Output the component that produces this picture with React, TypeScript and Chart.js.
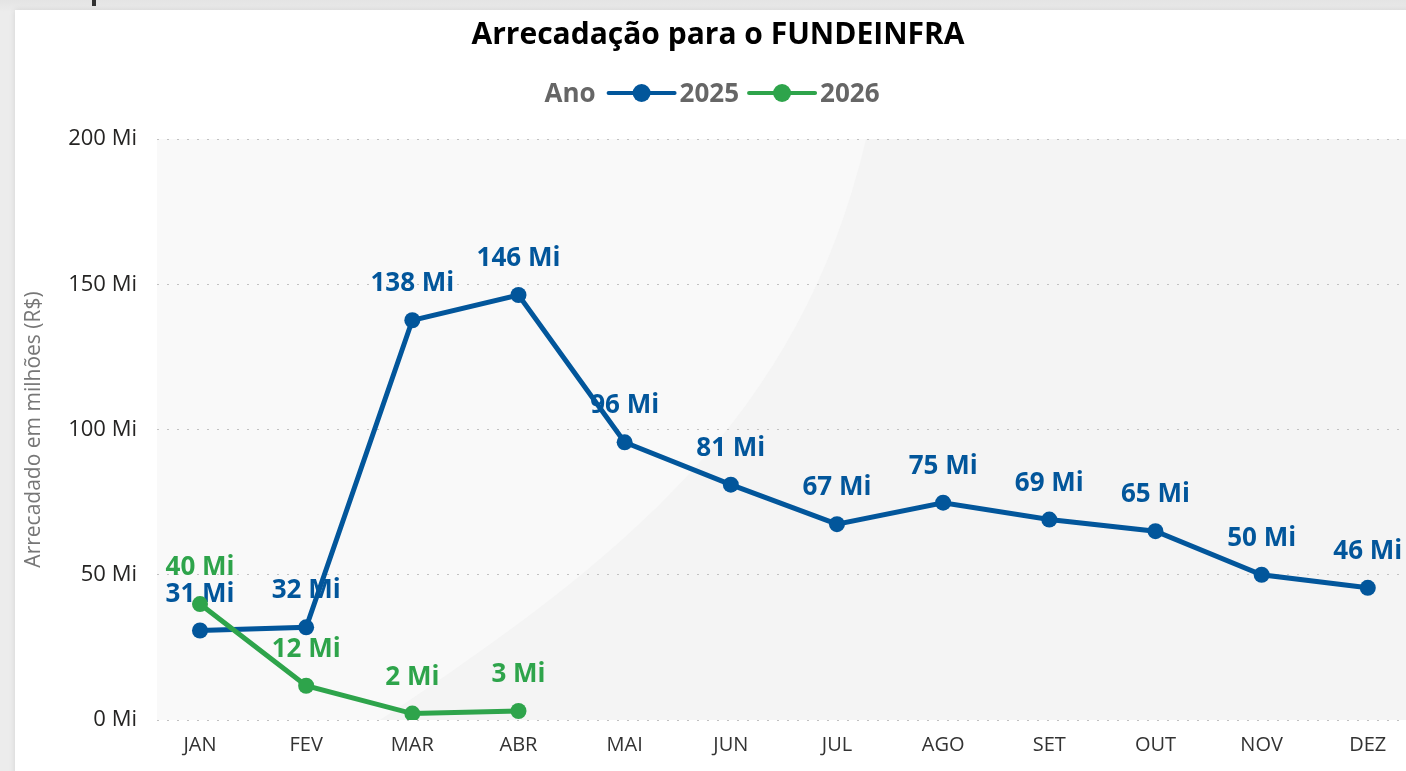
import React, { useEffect, useRef } from "react";
import { Chart, registerables } from "chart.js";

Chart.register(...registerables);

const MONTHS = ["JAN", "FEV", "MAR", "ABR", "MAI", "JUN", "JUL", "AGO", "SET", "OUT", "NOV", "DEZ"];
const VALUES_2025 = [30.8, 31.9, 137.6, 146.3, 95.6, 81.0, 67.4, 74.8, 69.0, 65.0, 50.0, 45.5];
const VALUES_2026 = [39.9, 11.8, 2.2, 3.1];
const SERIES_NAMES = ["2025", "2026"];
const SERIES_COLORS = ["#02569b", "#2ea44b"];
const Y_MIN = 0;
const Y_MAX = 200;
const Y_STEP = 50;
const TITLE = "Arrecadação para o FUNDEINFRA";
const LEGEND_TITLE = "Ano";
const Y_TITLE = "Arrecadado em milhões (R$)";

const FONT = '"Open Sans", "Noto Sans", sans-serif';

const fmt = (v: number) => `${Math.round(v)} Mi`;

const backgroundPlugin = {
  id: "plotBg",
  beforeDraw(chart: any) {
    const { ctx, chartArea } = chart;
    const { left, top, right, bottom } = chartArea;
    ctx.save();
    ctx.fillStyle = "#f4f4f4";
    ctx.fillRect(left, top, right - left, bottom - top);
    ctx.beginPath();
    ctx.moveTo(left, top);
    ctx.lineTo(866, top);
    ctx.bezierCurveTo(800, 420, 620, 560, 380, bottom);
    ctx.lineTo(left, bottom);
    ctx.closePath();
    ctx.fillStyle = "#f9f9f9";
    ctx.fill();
    ctx.restore();
  },
};

const labelsPlugin = {
  id: "valueLabels",
  beforeDatasetsDraw(chart: any) {
    const { ctx } = chart;
    ctx.save();
    ctx.font = `bold 26px ${FONT}`;
    ctx.textAlign = "center";
    ctx.textBaseline = "alphabetic";
    chart.data.datasets.forEach((ds: any, di: number) => {
      const meta = chart.getDatasetMeta(di);
      ctx.fillStyle = ds.borderColor;
      meta.data.forEach((pt: any, i: number) => {
        const v = ds.data[i].y;
        ctx.fillText(fmt(v), pt.x, pt.y - 29);
      });
    });
    ctx.restore();
  },
};

const headerPlugin = {
  id: "header",
  afterDraw(chart: any) {
    const { ctx } = chart;
    ctx.save();
    // Title
    ctx.font = `bold 30px ${FONT}`;
    ctx.fillStyle = "#000000";
    ctx.textAlign = "center";
    ctx.textBaseline = "alphabetic";
    ctx.fillText(TITLE, 718, 44);

    // Legend
    ctx.font = `bold 26px ${FONT}`;
    ctx.textAlign = "left";
    const lineW = 66;
    const gapA = 13;
    const gapMarkerText = 5;
    const gapItem = 10;
    const wTitle = ctx.measureText(LEGEND_TITLE).width;
    const wNames = SERIES_NAMES.map((n) => ctx.measureText(n).width);
    let total = wTitle + gapA;
    wNames.forEach((w, i) => {
      total += lineW + gapMarkerText + w + (i < wNames.length - 1 ? gapItem : 0);
    });
    let x = 712 - total / 2;
    const baseY = 102;
    const midY = 93;
    ctx.fillStyle = "#666666";
    ctx.fillText(LEGEND_TITLE, x, baseY);
    x += wTitle + gapA;
    SERIES_NAMES.forEach((name, i) => {
      ctx.strokeStyle = SERIES_COLORS[i];
      ctx.lineWidth = 4;
      ctx.lineCap = "round";
      ctx.beginPath();
      ctx.moveTo(x, midY);
      ctx.lineTo(x + lineW, midY);
      ctx.stroke();
      ctx.fillStyle = SERIES_COLORS[i];
      ctx.beginPath();
      ctx.arc(x + lineW / 2, midY, 9, 0, Math.PI * 2);
      ctx.fill();
      x += lineW + gapMarkerText;
      ctx.fillStyle = "#666666";
      ctx.fillText(name, x, baseY);
      x += wNames[i] + gapItem;
    });
    ctx.restore();
  },
};

export default function App() {
  const canvasRef = useRef<HTMLCanvasElement | null>(null);

  useEffect(() => {
    const canvas = canvasRef.current;
    if (!canvas) return;
    const chart = new Chart(canvas, {
      type: "line",
      data: {
        datasets: [
          {
            label: SERIES_NAMES[0],
            data: VALUES_2025.map((v, i) => ({ x: i, y: v })),
            borderColor: SERIES_COLORS[0],
            backgroundColor: SERIES_COLORS[0],
            pointBackgroundColor: SERIES_COLORS[0],
            borderWidth: 5,
            pointRadius: 8,
            pointBorderWidth: 0,
            pointHoverRadius: 8,
            tension: 0,
            order: 1,
          },
          {
            label: SERIES_NAMES[1],
            data: VALUES_2026.map((v, i) => ({ x: i, y: v })),
            borderColor: SERIES_COLORS[1],
            backgroundColor: SERIES_COLORS[1],
            pointBackgroundColor: SERIES_COLORS[1],
            borderWidth: 5,
            pointRadius: 8,
            pointBorderWidth: 0,
            pointHoverRadius: 8,
            tension: 0,
            order: 0,
          },
        ],
      },
      options: {
        animation: false,
        responsive: false,
        events: [],
        layout: { autoPadding: false, padding: { top: 139, left: 0, right: 0, bottom: 0 } },
        plugins: {
          legend: { display: false },
          title: { display: false },
          tooltip: { enabled: false },
        },
        scales: {
          x: {
            type: "linear",
            min: -0.405,
            max: 11.36,
            afterFit: (s: any) => {
              s.height = 51;
            },
            grid: { display: false, drawTicks: false },
            border: { display: false },
            ticks: {
              stepSize: 1,
              includeBounds: false,
              autoSkip: false,
              maxRotation: 0,
              padding: 13,
              color: "#333333",
              font: { family: FONT, size: 20 },
              callback: (v: any) => (Number.isInteger(v) ? MONTHS[v] ?? "" : ""),
            },
          },
          y: {
            min: Y_MIN,
            max: Y_MAX,
            afterFit: (s: any) => {
              s.width = 157;
            },
            grid: { color: "#c2c2c2", lineWidth: 1, drawTicks: false },
            border: { display: false, dash: [2, 8] },
            ticks: {
              stepSize: Y_STEP,
              padding: 20,
              color: "#252423",
              font: { family: FONT, size: 22 },
              callback: (v: any) => `${v} Mi`,
            },
            title: {
              display: true,
              text: Y_TITLE,
              color: "#777777",
              font: { family: FONT, size: 21 },
              padding: { top: 21, bottom: 0 },
            },
          },
        },
      },
      plugins: [backgroundPlugin, labelsPlugin, headerPlugin],
    } as any);
    return () => chart.destroy();
  }, []);

  return (
    <div
      style={{
        position: "fixed",
        left: 0,
        top: 0,
        width: 1406,
        height: 771,
        overflow: "hidden",
        background: "linear-gradient(#e4e4e4, #ececec 12px)",
      }}
    >
      <div style={{ position: "absolute", left: 92, top: 0, width: 4, height: 6, background: "#333" }} />
      <div
        style={{
          position: "absolute",
          left: 15,
          top: 10,
          width: 1420,
          height: 800,
          background: "#ffffff",
          boxShadow: "0 0 6px rgba(0,0,0,0.10)",
        }}
      />
      <canvas
        ref={canvasRef}
        width={1406}
        height={771}
        style={{ position: "absolute", left: 0, top: 0, width: 1406, height: 771 }}
      />
    </div>
  );
}
